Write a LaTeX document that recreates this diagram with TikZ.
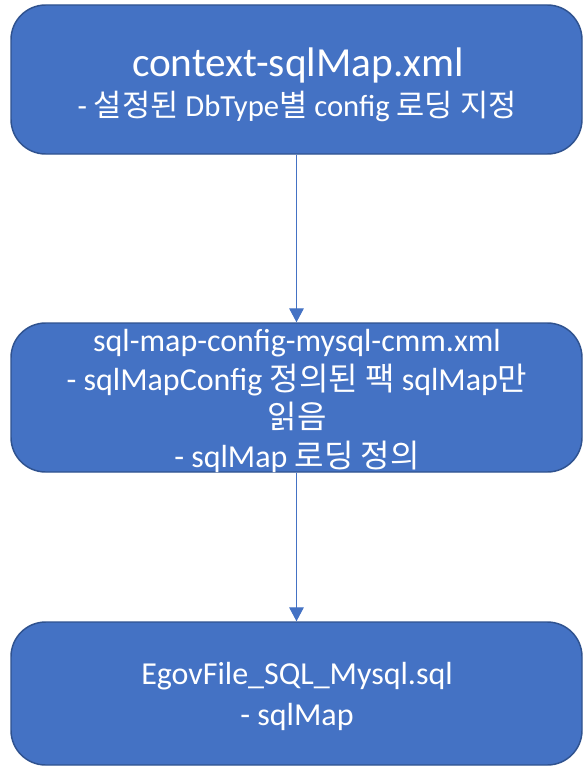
\documentclass[tikz,border=0pt]{standalone}
\usepackage{fontspec}
\setmainfont{Carlito}
\newfontfamily\ko{Noto Sans CJK KR}
\usetikzlibrary{arrows.meta}
\definecolor{boxfill}{HTML}{4472C4}
\definecolor{boxline}{HTML}{2F528F}
\begin{document}
\begin{tikzpicture}[x=0.75pt,y=-0.75pt,
  box/.style={draw=boxline, line width=1.1pt, fill=boxfill, rounded corners=26pt,
    minimum width=428.25pt, inner sep=0pt},
  txt/.style={anchor=base, text=white, inner sep=0pt, font=\fontsize{24pt}{28pt}\selectfont},
  midtxt/.style={txt, font=\fontsize{23pt}{27pt}\selectfont},
  bigtxt/.style={txt, font=\fontsize{31pt}{36pt}\selectfont},
  conn/.style={draw=boxfill, line width=0.8pt, -{Triangle[width=11pt,length=10.5pt]}}]
\useasboundingbox (0,0) rectangle (584,767);
\node[box, minimum height=111.75pt] (b1) at (296.5,79.5) {};
\node[box, minimum height=111.75pt] (b2) at (296.5,397.5) {};
\node[box, minimum height=107.25pt] (b3) at (296.5,693.5) {};
\draw[conn] (b1.south) -- (b2.north);
\draw[conn] (b2.south) -- (b3.north);
\node[bigtxt] (t1) at (298,76) {context-sqlMap.xml};
\node[midtxt] (t2) at (297,117) {- {\ko 설정된} DbType{\ko 별} config {\ko 로딩 지정}};
\node[txt] (t3) at (297,351) {sql-map-config-mysql-cmm.xml};
\node[txt] (t4) at (297,390) {- sqlMapConfig {\ko 정의된 팩} sqlMap{\ko 만}};
\node[txt] (t5) at (297,428) {{\ko 읽음}};
\node[txt] (t6) at (297,467) {- sqlMap {\ko 로딩 정의}};
\node[txt] (t7) at (297,684) {EgovFile\_SQL\_Mysql.sql};
\node[txt] (t8) at (297,725) {- sqlMap};
\end{tikzpicture}
\end{document}
